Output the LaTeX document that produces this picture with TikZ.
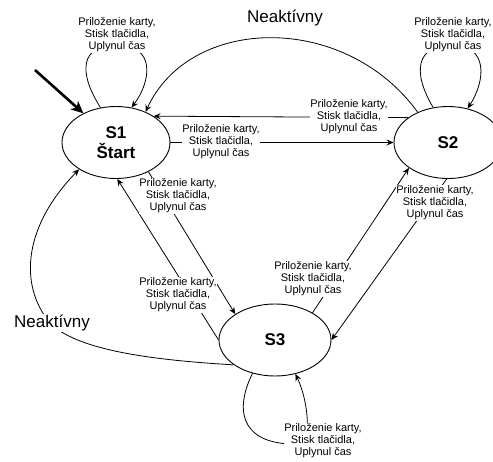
\documentclass[tikz,border=0pt]{standalone}
\usepackage{fontspec}
\setmainfont{Liberation Sans}
\usetikzlibrary{arrows.meta,shapes.geometric}
\begin{document}
\begin{tikzpicture}[x=1pt,y=-1pt,
  state/.style={draw, ellipse, minimum width=108pt, minimum height=72pt,
    inner sep=0pt, line width=0.9pt, align=center,
    font=\fontsize{17}{20}\selectfont\bfseries},
  trans/.style={draw, line width=0.8pt,
    -{Stealth[length=7pt,width=6pt,inset=2.5pt]}},
  initarrow/.style={draw, line width=2.6pt,
    -{Stealth[length=12pt,width=11pt,inset=3pt]}},
  lbl/.style={fill=white, inner sep=0.5pt, align=center,
    font=\fontsize{11}{12}\selectfont},
  biglbl/.style={inner sep=1pt, font=\fontsize{17}{20}\selectfont}
]
\useasboundingbox (0,0) rectangle (493,462);

% states
\node[state] (s1) at (116,142.5) {S1\\Štart};
\node[state, minimum width=108pt] (s2) at (448,142.5) {S2};
\node[state, minimum width=112pt] (s3) at (275,340) {S3};

% initial state marker
\coordinate (i0) at (35,70);
\draw[initarrow] (i0) -- (s1);

% self loops
\draw[trans] (s1.114) .. controls (78,72) and (80,45) .. (117,45)
                      .. controls (155,45) and (152,80) .. (s1.66);
\draw[trans] (s2.113) .. controls (412,72) and (416,45) .. (452,45)
                      .. controls (488,45) and (486,80) .. (s2.60);
\draw[trans] (s3.236) .. controls (232,415) and (245,446) .. (300,444)
                      .. controls (312,440) and (308,400) .. (s3.301);

% transitions between states
\draw[trans] (s2.135) .. controls (345,12) and (190,15) .. (s1.46);
\draw[trans] (s2.148) -- (s1.35);
\draw[trans] (s1.east) -- (s2.west);
\draw[trans] (s1.-42) -- (s3.147);
\draw[trans] (s3.180) -- (s1.-88);
\draw[trans] (s3.211) .. controls (150,360) and (80,350) .. (52,325)
                      .. controls (20,290) and (20,230) .. (s1.216);
\draw[trans] (s3.36) -- (s2.213);
\draw[trans] (s2.-92) -- (s3.0);

% transition labels
\def\evts{Priloženie karty,\\Stisk tlačidla,\\Uplynul čas}
\node[lbl] (l1) at (117,35) {\evts};
\node[lbl] (l2) at (453,35) {\evts};
\node[lbl] (l3) at (323,441) {\evts};
\node[lbl] (l21) at (349,117) {\evts};
\node[lbl] (l12) at (221,142) {\evts};
\node[lbl] (l13) at (178,196) {\evts};
\node[lbl] (l31) at (178,295) {\evts};
\node[lbl] (l32) at (313,279) {\evts};
\node[lbl] (l23) at (435,203) {\evts};
\node[biglbl] (n1) at (285,18) {Neaktívny};
\node[biglbl, fill=white] (n2) at (52,323) {Neaktívny};
\end{tikzpicture}
\end{document}
